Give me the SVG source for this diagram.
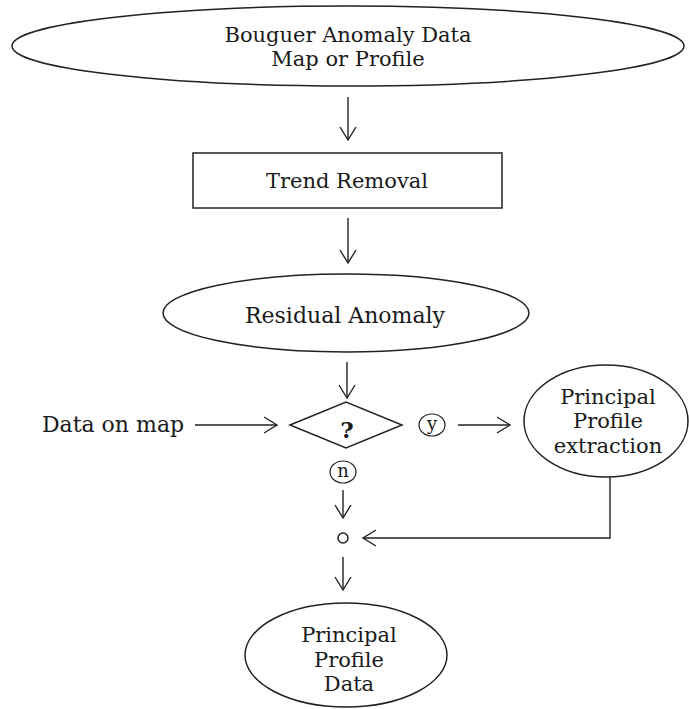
<svg xmlns="http://www.w3.org/2000/svg" width="689" height="709" viewBox="0 0 689 709">
<defs>
<marker id="arr" viewBox="0 0 16 18" refX="14" refY="9" markerWidth="16" markerHeight="18" markerUnits="userSpaceOnUse" orient="auto">
<path d="M1,1 L14,9 L1,17" fill="none" stroke="#222" stroke-width="1.4"/>
</marker>
</defs>
<style>
.s{fill:none;stroke:#222;stroke-width:1.5}
.t{font-family:"DejaVu Serif","Liberation Serif",serif;font-size:21px;fill:#1a1a1a;text-anchor:middle}
.c{stroke:#222;stroke-width:1.4;fill:none;marker-end:url(#arr)}
</style>
<rect width="689" height="709" fill="#fff"/>
<g id="bouguer">
<ellipse class="s" cx="348" cy="46" rx="336" ry="40"/>
<text class="t" x="348" y="42">Bouguer Anomaly Data</text>
<text class="t" x="348" y="66">Map or Profile</text>
</g>
<g id="trend">
<rect class="s" x="193" y="153" width="309" height="55"/>
<text class="t" x="347" y="188">Trend Removal</text>
</g>
<g id="residual">
<ellipse class="s" cx="346" cy="313" rx="183" ry="39"/>
<text class="t" x="345" y="323" style="font-size:22px">Residual Anomaly</text>
</g>
<g id="decision">
<polygon class="s" points="290,425 346,402 402,425 346,448"/>
<text class="t" x="347" y="438" style="font-weight:bold;font-size:23px">?</text>
</g>
<g id="datamap">
<text class="t" x="113" y="432" style="font-size:22px">Data on map</text>
</g>
<g id="yes">
<ellipse class="s" cx="432" cy="425" rx="13" ry="11" style="stroke-width:1.2"/>
<text class="t" x="432" y="430" style="font-size:18px">y</text>
</g>
<g id="extraction">
<ellipse class="s" cx="606" cy="421" rx="82" ry="56"/>
<text class="t" x="608" y="404">Principal</text>
<text class="t" x="608" y="428">Profile</text>
<text class="t" x="608" y="453">extraction</text>
</g>
<g id="no">
<ellipse class="s" cx="343" cy="472" rx="13" ry="11" style="stroke-width:1.2"/>
<text class="t" x="343" y="477" style="font-size:18px">n</text>
</g>
<g id="junction">
<circle class="s" cx="343" cy="538" r="5"/>
</g>
<g id="output">
<ellipse class="s" cx="346" cy="655" rx="101" ry="52"/>
<text class="t" x="349" y="642">Principal</text>
<text class="t" x="349" y="667">Profile</text>
<text class="t" x="349" y="691">Data</text>
</g>
<g id="connectors">
<line class="c" x1="348" y1="97" x2="348" y2="140"/>
<line class="c" x1="348" y1="218" x2="348" y2="263"/>
<line class="c" x1="347" y1="362" x2="347" y2="398"/>
<line class="c" x1="195" y1="425" x2="277" y2="425"/>
<line class="c" x1="458" y1="425" x2="510" y2="425"/>
<line class="c" x1="343" y1="490" x2="343" y2="518"/>
<polyline class="c" points="610,477 610,538 363,538"/>
<line class="c" x1="343" y1="557" x2="343" y2="590"/>
</g>
</svg>
